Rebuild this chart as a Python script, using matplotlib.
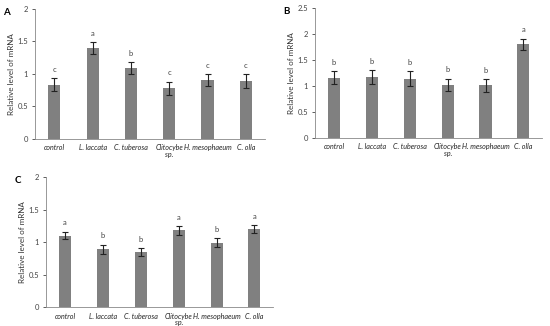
import numpy as np
import matplotlib.pyplot as plt

plt.rcParams['font.family'] = ['Lato', 'DejaVu Sans']

categories = ['control', 'L. laccata', 'C. tuberosa', 'Clitocybe\nsp.', 'H. mesophaeum', 'C. olla']

a_vals = [0.83, 1.40, 1.09, 0.78, 0.91, 0.89]
a_err = [0.10, 0.09, 0.09, 0.10, 0.09, 0.11]
a_letters = ['c', 'a', 'b', 'c', 'c', 'c']

b_vals = [1.16, 1.17, 1.14, 1.02, 1.01, 1.80]
b_err = [0.12, 0.13, 0.14, 0.12, 0.12, 0.11]
b_letters = ['b', 'b', 'b', 'b', 'b', 'a']

c_vals = [1.10, 0.89, 0.85, 1.18, 0.99, 1.20]
c_err = [0.06, 0.07, 0.06, 0.07, 0.07, 0.06]
c_letters = ['a', 'b', 'b', 'a', 'b', 'a']

fig = plt.figure(figsize=(5.5, 3.26), dpi=100)

def panel(rect, vals, err, letters, ymax, yticks, ylabels, tag):
    ax = fig.add_axes(rect)
    x = np.arange(len(categories))
    ax.bar(x, vals, width=0.32, color='#808080', yerr=err, capsize=2,
           error_kw=dict(elinewidth=0.8, capthick=0.8, ecolor='#222222'))
    for xi, v, e, l in zip(x, vals, err, letters):
        ax.text(xi, v + e + 0.04 * ymax, l, ha='center', va='bottom', fontsize=5.5, color='#444444')
    ax.set_xlim(-0.5, len(categories) - 0.5)
    ax.set_ylim(0, ymax)
    ax.set_yticks(yticks)
    ax.set_yticklabels(ylabels)
    ax.set_xticks(x)
    ax.set_xticklabels(categories, fontsize=5.1, style='italic', color='#222222', linespacing=0.9)
    ax.tick_params(axis='x', length=0, pad=4)
    ax.tick_params(axis='y', labelsize=5.5, length=2, width=0.6, colors='#444444', pad=3)
    ax.spines['top'].set_visible(False)
    ax.spines['right'].set_visible(False)
    for s in ['left', 'bottom']:
        ax.spines[s].set_color('#888888')
        ax.spines[s].set_linewidth(0.6)
    ax.set_ylabel('Relative level of mRNA', fontsize=5.8, color='#333333')
    ax.yaxis.set_label_coords(-0.09, 0.5)
    fig.text(rect[0] - 0.058, rect[1] + rect[3] - 0.01, tag, fontsize=7, fontweight='bold', va='center')
    return ax

panel([0.064, 0.574, 0.418, 0.399], a_vals, a_err, a_letters, 2,
      [0, 0.5, 1, 1.5, 2], ['0', '0.5', '1', '1.5', '2'], 'A')
panel([0.573, 0.577, 0.413, 0.399], b_vals, b_err, b_letters, 2.5,
      [0, 0.5, 1, 1.5, 2, 2.5], ['0', '0.5', '1', '1.5', '2', '2.5'], 'B')
panel([0.084, 0.058, 0.413, 0.399], c_vals, c_err, c_letters, 2,
      [0, 0.5, 1, 1.5, 2], ['0', '0.5', '1', '1.5', '2'], 'C')

fig.savefig('out.png', dpi=100)
